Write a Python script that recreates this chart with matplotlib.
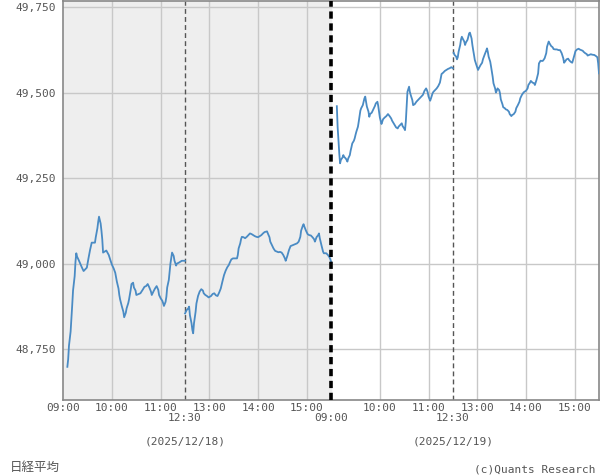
import matplotlib
matplotlib.use("Agg")
import matplotlib.pyplot as plt
from matplotlib.transforms import blended_transform_factory
import numpy as np

plt.rcParams['font.family'] = ['DejaVu Sans Mono', 'Noto Sans CJK JP']

# minutes since 09:00 (wall clock), lunch break 11:30-12:30
d1_min = [5, 6, 7, 9, 10, 11, 12, 14, 15, 16, 17, 19, 21, 23, 25, 27, 29, 31, 33, 35,
          39, 40, 42, 43, 44, 46, 47, 48, 49, 51, 53, 56, 58, 60, 62, 64, 66, 68, 69, 70,
          72, 74, 75, 77, 78, 80, 81, 83, 84, 86, 87, 89, 90, 93, 95, 98, 100, 102, 104, 106,
          108, 109, 111, 113, 115, 117, 118, 120, 122, 123, 124, 126, 127, 128, 130, 131, 132, 134, 136, 137,
          139, 140, 142, 144, 146, 150,
          210, 212, 214, 215, 216, 218, 219, 220, 221, 223, 224, 226, 228, 230, 232, 233, 235, 237, 239, 242,
          244, 246, 248, 250, 252, 254, 256, 258, 260, 262, 264, 265, 267, 269, 274, 275, 276, 278, 279, 280,
          282, 284, 286, 288, 290, 292, 294, 296, 298, 300, 302, 304, 306, 308, 311, 312, 314, 315, 317, 319,
          321, 323, 325, 327, 329, 331, 333, 334, 336, 338, 340, 342, 344, 346, 348, 350, 352, 353, 355, 356,
          357, 359, 361, 363, 365, 367, 369, 370, 372, 374, 375, 376, 378, 380, 381, 384, 386, 388, 389, 390]
d1_val = [48698, 48720, 48760, 48801, 48840, 48879, 48921, 48963, 49005, 49030, 49020, 49010, 48999, 48988, 48978, 48983, 48988, 49015, 49040, 49061,
          49061, 49077, 49103, 49122, 49137, 49117, 49096, 49071, 49032, 49035, 49038, 49025, 49010, 48996, 48986, 48973, 48947, 48927, 48908, 48895,
          48876, 48859, 48843, 48856, 48869, 48884, 48895, 48923, 48940, 48944, 48930, 48921, 48908, 48911, 48913, 48924, 48932, 48934, 48940, 48930,
          48918, 48908, 48918, 48927, 48934, 48923, 48908, 48898, 48891, 48884, 48876, 48888, 48903, 48930, 48952, 48976, 49000, 49032, 49022, 49008,
          48994, 49000, 49002, 49005, 49008, 49008,
          48854, 48864, 48869, 48874, 48849, 48825, 48806, 48796, 48825, 48859, 48883, 48905, 48918, 48925, 48921, 48913, 48908, 48905, 48901, 48905,
          48911, 48913, 48907, 48905, 48915, 48927, 48947, 48966, 48979, 48989, 48996, 49002, 49012, 49015, 49015, 49025, 49044, 49059, 49071, 49078,
          49077, 49074, 49078, 49083, 49088, 49086, 49083, 49080, 49078, 49077, 49080, 49083, 49088, 49092, 49094, 49088, 49077, 49064, 49054, 49044,
          49037, 49035, 49033, 49034, 49032, 49025, 49015, 49008, 49022, 49039, 49051, 49053, 49055, 49057, 49059, 49064, 49078, 49096, 49110, 49115,
          49108, 49096, 49086, 49083, 49082, 49077, 49071, 49064, 49077, 49083, 49088, 49074, 49054, 49035, 49030, 49030, 49025, 49018, 49012, 49005]

d2_min = [7, 8, 9, 10, 11, 12, 14, 15, 16, 18, 19, 20, 21, 23, 24, 25, 26, 28, 29, 30,
          31, 33, 34, 35, 36, 37, 39, 40, 41, 42, 43, 44, 46, 47, 48, 50, 52, 54, 55, 57,
          58, 59, 60, 62, 63, 64, 66, 68, 70, 72, 74, 75, 77, 79, 80, 82, 83, 85, 87, 88,
          90, 91, 92, 93, 94, 96, 97, 98, 100, 101, 103, 105, 107, 109, 111, 113, 115, 117, 118, 119,
          120, 122, 123, 125, 126, 128, 130, 132, 134, 135, 136, 138, 140, 142, 144, 146, 148, 150,
          211, 212, 214, 215, 216, 217, 219, 220, 221, 222, 224, 225, 226, 228, 229, 230, 231, 233, 234, 235,
          236, 237, 239, 241, 242, 244, 246, 247, 249, 251, 252, 253, 254, 256, 257, 258, 259, 260, 262, 263,
          264, 265, 267, 268, 269, 271, 272, 274, 275, 277, 279, 280, 282, 283, 285, 287, 288, 290, 292, 293,
          295, 297, 298, 300, 302, 303, 305, 306, 308, 310, 311, 313, 315, 316, 318, 320, 321, 323, 325, 326,
          328, 329, 331, 333, 334, 336, 338, 340, 342, 344, 346, 347, 348, 350, 352, 353, 355, 357, 358, 360,
          361, 363, 365, 366, 368, 370, 371, 373, 375, 376, 378, 380, 381, 383, 384, 386, 388, 389, 390]
d2_val = [49460, 49398, 49361, 49322, 49293, 49303, 49310, 49317, 49312, 49307, 49303, 49298, 49307, 49317, 49330, 49340, 49351, 49359, 49366, 49376,
          49385, 49400, 49415, 49431, 49447, 49454, 49463, 49473, 49483, 49488, 49473, 49459, 49444, 49429, 49437, 49441, 49451, 49461, 49468, 49473,
          49461, 49444, 49427, 49408, 49415, 49422, 49427, 49431, 49437, 49431, 49424, 49418, 49410, 49402, 49398, 49395, 49400, 49405, 49410, 49402,
          49395, 49390, 49415, 49459, 49502, 49517, 49502, 49493, 49478, 49463, 49466, 49473, 49478, 49483, 49488, 49493, 49505, 49512, 49507, 49500,
          49488, 49476, 49483, 49498, 49502, 49507, 49512, 49519, 49529, 49541, 49554, 49558, 49563, 49566, 49569, 49571, 49574, 49571,
          49616, 49610, 49605, 49597, 49603, 49619, 49639, 49655, 49663, 49658, 49649, 49639, 49646, 49654, 49663, 49673, 49675, 49658, 49639, 49624,
          49610, 49595, 49580, 49566, 49571, 49580, 49587, 49597, 49610, 49622, 49629, 49619, 49605, 49590, 49576, 49561, 49546, 49527, 49512, 49500,
          49505, 49512, 49507, 49498, 49480, 49466, 49457, 49454, 49451, 49449, 49444, 49437, 49431, 49434, 49437, 49444, 49454, 49463, 49473, 49483,
          49493, 49500, 49502, 49505, 49512, 49522, 49529, 49534, 49529, 49527, 49522, 49537, 49556, 49585, 49593, 49592, 49593, 49600, 49615, 49634,
          49649, 49644, 49636, 49632, 49627, 49626, 49626, 49624, 49624, 49615, 49600, 49587, 49590, 49597, 49599, 49595, 49590, 49587, 49595, 49612,
          49621, 49626, 49628, 49626, 49624, 49622, 49619, 49615, 49612, 49608, 49610, 49612, 49611, 49610, 49610, 49607, 49603, 49585, 49556]

dates = ["(2025/12/18)", "(2025/12/19)"]
y_ticks = [48750, 49000, 49250, 49500, 49750]
hour_ticks = [60, 120, 240, 300, 360]          # 10:00 11:00 13:00 14:00 15:00
hour_labels = ["10:00", "11:00", "13:00", "14:00", "15:00"]

LINE = "#4a8bc4"
GRID = "#c8c8c8"
TXT = "#555555"
DAY = 330   # trading minutes per session


def to_x(day, m):
    m = np.asarray(m, dtype=float)
    return day * DAY + np.where(m <= 150, m, m - 60)


def main() -> None:
    fig = plt.figure(figsize=(6, 4.75), dpi=100)
    ax = fig.add_axes([63.3 / 600, 1 - 400 / 475, (599 - 63.3) / 600, 399.5 / 475])

    ax.set_xlim(0, 2 * DAY)
    ax.set_ylim(48601, 49769)
    ax.axvspan(0, DAY, color="#eeeeee", zorder=0)

    for y in y_ticks:
        ax.axhline(y, color=GRID, lw=1, zorder=1)
    for day in range(2):
        for h in hour_ticks:
            ax.axvline(to_x(day, h), color=GRID, lw=1, zorder=1)
        ax.axvline(to_x(day, 210), color="#555555", lw=1, ls=(0, (3.5, 2.3)), zorder=2)
    ax.axvline(DAY, color="black", lw=2.6, ls=(0, (2, 1.3)), zorder=4)

    for day, (mins, vals) in enumerate([(d1_min, d1_val), (d2_min, d2_val)]):
        mins = np.array(mins)
        vals = np.array(vals)
        am = mins <= 150
        ax.plot(to_x(day, mins[am]), vals[am], color=LINE, lw=1.3, zorder=3)
        ax.plot(to_x(day, mins[~am]), vals[~am], color=LINE, lw=1.3, zorder=3)

    # first row of time labels
    xt, xl = [float(to_x(0, 0))], ["09:00"]
    for day in range(2):
        for h, lab in zip(hour_ticks, hour_labels):
            xt.append(float(to_x(day, h)))
            xl.append(lab)
    ax.set_xticks(xt)
    ax.set_xticklabels(xl, fontsize=8, color=TXT)
    ax.set_yticks(y_ticks)
    ax.set_yticklabels([f"{v:,}" for v in y_ticks], fontsize=8, color=TXT)
    ax.tick_params(axis="both", length=0)
    ax.tick_params(axis="x", pad=2)
    ax.tick_params(axis="y", pad=5)

    for s in ax.spines.values():
        s.set_color("#888888")
        s.set_linewidth(1.2)

    # second row of time labels, and the dates
    tr = blended_transform_factory(ax.transData, fig.transFigure)
    ax.text(to_x(1, 0), 1 - 418 / 475, "09:00", transform=tr, fontsize=8,
            color=TXT, ha="center", va="center")
    for day, d in enumerate(dates):
        ax.text(to_x(day, 210), 1 - 418 / 475, "12:30", transform=tr, fontsize=8,
                color=TXT, ha="center", va="center")
        ax.text(to_x(day, 210), 1 - 442 / 475, d, transform=tr,
                fontsize=8, color=TXT, ha="center", va="center")

    fig.text(10 / 600, 1 - 467.5 / 475, "日経平均", fontsize=9, color=TXT, ha="left", va="center")
    fig.text(595 / 600, 1 - 469 / 475, "(c)Quants Research", fontsize=8, color=TXT,
             ha="right", va="center")

    fig.savefig("out.png", dpi=100)


if __name__ == "__main__":
    main()
